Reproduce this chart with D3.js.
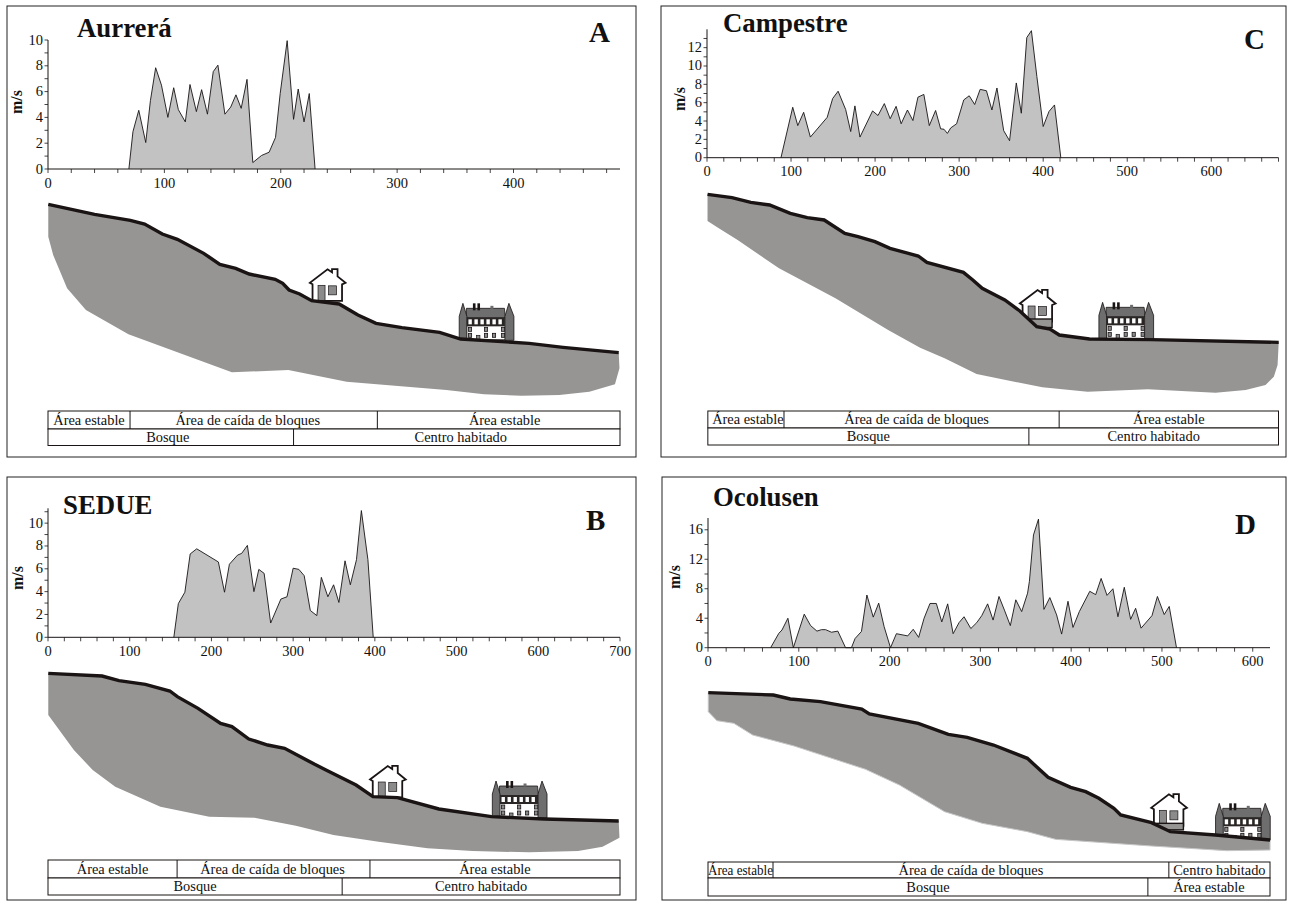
<!DOCTYPE html>
<html><head><meta charset="utf-8">
<style>html,body{margin:0;padding:0;background:#fff}svg{display:block}text{font-family:"Liberation Serif","Times New Roman",serif;fill:#111}</style>
<script src="https://cdn.jsdelivr.net/npm/d3@7"></script></head><body>
<svg id="c" width="1291" height="903"></svg>
<script>
// ---- wind speed along the profile (distance m, speed m/s)
const aurreraDist=[69.5,73,78,84,88,92.5,97.5,103,108,112,118,122,127.5,132,137,142,146,152,157,161.5,166,171,176,183.5,190,195.5,199.5,205.5,211,215,220,224.5,229.5];
const aurreraSpeed=[0,2.9,4.55,2.05,5.3,7.85,6.5,4,6.3,4.6,3.65,6.55,4.45,6.15,4.25,7.55,8.05,4.25,4.8,5.75,4.7,6.95,0.5,1.05,1.3,2.45,5.85,9.95,3.85,6.2,3.65,5.85,0];
const campestreDist=[88,102,108,115,123,143,149.5,156,165,171,176,182,197,203.5,211,218,225,231,238.5,245,251,258,264.5,272,278,282,286,290,297,305.5,312,318.5,325,332.5,339,345,353,360,368,374,380.5,386,392.5,400,407,413.5,421];
const campestreSpeed=[0,5.5,3.5,4.95,2.25,4.4,6.45,7.25,5.25,2.85,5.65,2.25,5.1,4.6,5.9,4.25,5.6,3.7,5.2,4.05,6.6,6.9,3.5,5.15,3.15,3.1,2.65,3.25,3.7,6.3,6.75,5.8,7.45,7.3,5.2,7.6,2.95,1.85,8.15,4.85,13.1,13.85,8.85,3.4,5.05,5.75,0];
const sedueDist=[154,159.5,167.5,174,182,208.5,216,222,232,237,244,252,258,264.5,272.5,285,292.5,300,307,313.5,321,329,334.5,342.5,349.5,356,363.5,370,377.5,383.5,391.5,398];
const sedueSpeed=[0,2.95,3.95,7.3,7.75,6.6,3.95,6.4,7.2,7.35,8.05,4,5.95,5.6,1.25,3.35,3.55,6.05,5.95,5.4,2.35,1.9,5.25,3.55,4.6,3.05,6.7,4.6,6.8,11.1,6.8,0];
const ocolusenDist=[69,78,81.5,88,94,106,113,120,125,129.5,136,143,151.5,158,162,169,175,182,188,194,201,207.5,220,226,232,238,244.5,251.5,257.5,264,270,276.5,282,289.5,296,301.5,308,314,320.5,326.5,333,339,345.5,352,354,358.5,364,370,376.5,384,389.5,396.5,402,409,420.5,427,433,439.5,446,451.5,458.5,465.5,471,477,489,495,502.5,508,516];
const ocolusenSpeed=[0,1.95,2.4,4,0,4.55,3,2.25,2.45,2.45,2.1,2.25,0,0,1.25,2.2,7.15,4.15,6.05,2.85,0,1.9,1.6,2.5,1.4,4,6,6,3.5,5.95,1.9,3.4,4.2,2.6,3.4,4.35,5.95,3.75,6.95,5.1,3,6.5,4.9,7.4,9,15.3,17.45,5.2,6.8,4.45,1.85,6.3,2.75,4.9,7.65,7.2,9.4,7.1,8,4.2,8.2,3.85,5.35,2.65,4.35,6.95,4.5,5.6,0];

// ---- terrain profiles, read in sheet units
const aurreraGround=[[22,28],[145,58],[240,76],[278,87],[325,117],[365,133],[435,175],[478,208],[520,220],[556,237],[625,253],[645,265],[662,285],[690,297],[722,317],[795,327],[845,360],[893,385],[962,398],[1062,412],[1118,432],[1300,445],[1390,457],[1538,473]];
const aurreraBase=[[1540,520],[1528,568],[1460,590],[1380,600],[1280,602],[1180,598],[1080,585],[815,560],[660,525],[510,532],[235,418],[122,345],[72,280],[35,180],[22,125]];
const campestreGround=[[20,28],[85,38],[135,52],[185,60],[240,85],[285,98],[330,105],[385,145],[420,155],[465,170],[505,190],[580,213],[603,232],[700,262],[725,285],[750,310],[810,345],[850,378],[895,425],[930,432],[955,450],[1035,462],[1200,464],[1538,472]];
const campestreBase=[[1535,540],[1525,575],[1503,600],[1450,615],[1370,623],[1190,613],[1030,620],[910,607],[735,567],[650,520],[585,488],[500,435],[360,340],[210,250],[100,165],[50,130],[20,108]];
const sedueGround=[[22,25],[165,33],[210,47],[280,58],[345,78],[365,95],[420,130],[480,175],[510,185],[555,222],[605,240],[650,250],[730,298],[760,315],[840,360],[885,395],[950,398],[1060,432],[1200,455],[1340,462],[1538,468]];
const sedueBase=[[1540,518],[1495,545],[1430,558],[1300,562],[1150,558],[1030,550],[900,530],[780,510],[680,482],[570,458],[450,455],[320,425],[200,365],[140,315],[90,255],[22,150]];
const ocolusenGround=[[22,38],[195,45],[240,57],[320,65],[430,87],[450,102],[580,130],[660,163],[710,172],[780,195],[870,235],[925,292],[985,322],[1025,335],[1060,355],[1100,385],[1118,405],[1200,428],[1250,455],[1370,465],[1515,480]];
const ocolusenBase=[[1515,510],[1400,512],[1200,498],[945,478],[870,455],[750,430],[650,395],[530,315],[440,268],[250,198],[140,165],[90,130],[45,122],[22,95]];

// ---- zone limits along the distance axis, and their names
const aurreraHazard=[0,70.5,283,491.5], aurreraHazardNames=["Área estable","Área de caída de bloques","Área estable"];
const aurreraUse=[0,211,491.5], aurreraUseNames=["Bosque","Centro habitado"];
const campestreHazard=[1,91.6,419,680], campestreHazardNames=["Área estable","Área de caída de bloques","Área estable"];
const campestreUse=[1,383,680], campestreUseNames=["Bosque","Centro habitado"];
const sedueHazard=[0,158,394,700], sedueHazardNames=["Área estable","Área de caída de bloques","Área estable"];
const sedueUse=[0,360,700], sedueUseNames=["Bosque","Centro habitado"];
const ocolusenHazard=[0,71.6,507.6,619], ocolusenHazardNames=["Área estable","Área de caída de bloques","Centro habitado"];
const ocolusenUse=[0,484.5,619], ocolusenUseNames=["Bosque","Área estable"];

const xTickLabelsA=[0,100,200,300,400], xTickLabelsC=[0,100,200,300,400,500,600], xTickLabelsB=[0,100,200,300,400,500,600,700], xTickLabelsD=[0,100,200,300,400,500,600];
const yTickLabelsA=[0,2,4,6,8,10], yTickLabelsC=[0,2,4,6,8,10,12], yTickLabelsB=[0,2,4,6,8,10], yTickLabelsD=[0,4,8,12,16];

// ---- layout
const panels=[
 {name:"Aurrerá",letter:"A",frame:[7,6,636,457],dist:aurreraDist,speed:aurreraSpeed,ground:aurreraGround,base:aurreraBase,
  xd:[0,491.5],xr:[48,620],xt:xTickLabelsA,xMinor:20,yd:[0,10],yr:[169,40],yt:yTickLabelsA,yMinor:1,yLast:10,
  sheet:[40,195,205],house:[715,220],foot:0,castle:[1112,325],
  title:[77,37],let:[589,42],ms:[22,102],haz:aurreraHazard,hazN:aurreraHazardNames,use:aurreraUse,useN:aurreraUseNames,tab:[411,429,445.5],
  hazDx:[0,-6,6],useDx:[-3,4]},
 {name:"Campestre",letter:"C",frame:[661,6,1286,457],dist:campestreDist,speed:campestreSpeed,ground:campestreGround,base:campestreBase,
  xd:[0,680],xr:[707,1278.5],xt:xTickLabelsC,xMinor:20,yd:[0,14],yr:[157.7,29.3],yt:yTickLabelsC,yMinor:1,yLast:13,
  sheet:[700,185,215],house:[848,312],foot:6,castle:[1058,352],
  title:[723,32],let:[1244,49],ms:[685,99],haz:campestreHazard,hazN:campestreHazardNames,use:campestreUse,useN:campestreUseNames,tab:[411,428,445],
  hazDx:[2,-5,0],useDx:[0,0]},
 {name:"SEDUE",letter:"B",frame:[7,477,636,900],dist:sedueDist,speed:sedueSpeed,ground:sedueGround,base:sedueBase,
  xd:[0,700],xr:[48,620],xt:xTickLabelsB,xMinor:20,yd:[0,11.3],yr:[637.3,508.3],yt:yTickLabelsB,yMinor:1,yLast:11,
  sheet:[40,665,195],house:[875,300],foot:0,castle:[1200,348],
  title:[63,514],let:[586,530],ms:[23,578],haz:sedueHazard,hazN:sedueHazardNames,use:sedueUse,useN:sedueUseNames,tab:[860,878,895],
  hazDx:[0,-1,0],useDx:[0,0]},
 {name:"Ocolusen",letter:"D",frame:[662,477,1286,900],dist:ocolusenDist,speed:ocolusenSpeed,ground:ocolusenGround,base:ocolusenBase,
  xd:[0,619],xr:[708,1270],xt:xTickLabelsD,xMinor:20,yd:[0,17.6],yr:[647.7,518],yt:yTickLabelsD,yMinor:2,yLast:16,
  sheet:[700,680,180],house:[1197,340],foot:4,castle:[1368,370],
  title:[713,506],let:[1235,534],ms:[680,577],haz:ocolusenHazard,hazN:ocolusenHazardNames,use:ocolusenUse,useN:ocolusenUseNames,tab:[862,878,896],squeezeFirst:65,
  hazDx:[0,0,0],useDx:[0,0]}
];

const svg=d3.select("#c");
const INK="#1a1414", ROCK="#969594", WIND="#c2c2c2", GREYB="#6e6e6e";

function drawHouse(g){
  g.append("path").attr("d","M3.5,16 L3.5,32.5 L33,32.5 L33,16 L36.5,14.5 L28.5,8 L28.5,0.8 L23,0.8 L23,4 L18.5,1 L0.8,14.5 Z")
    .attr("fill","#fff").attr("stroke",INK).attr("stroke-width",1.8).attr("stroke-linejoin","miter");
  g.append("rect").attr("x",9).attr("y",17).attr("width",7).attr("height",15).attr("fill","#8b8b8b").attr("stroke",INK).attr("stroke-width",0.7);
  g.append("rect").attr("x",19.5).attr("y",17.5).attr("width",8).attr("height",9).attr("fill","#8b8b8b").attr("stroke",INK).attr("stroke-width",0.7);
}
function drawFoot(g,h){
  if(h>0) g.append("rect").attr("x",3.5).attr("y",30).attr("width",29.5).attr("height",h+2.5).attr("fill",ROCK).attr("stroke",INK).attr("stroke-width",1.4);
}
function drawCastle(g){
  g.append("rect").attr("x",8).attr("y",14).attr("width",40).attr("height",22.5).attr("fill","#fff").attr("stroke",INK);
  g.append("path").attr("d","M8,5 L46,5 L47,14.5 L8,14.5 Z").attr("fill",GREYB).attr("stroke",INK).attr("stroke-width",0.8);
  g.append("rect").attr("x",14.5).attr("y",0).attr("width",2.6).attr("height",7).attr("fill",INK);
  g.append("rect").attr("x",19).attr("y",0).attr("width",2.6).attr("height",7).attr("fill",INK);
  g.append("rect").attr("x",32).attr("y",2.5).attr("width",3).attr("height",3).attr("fill",GREYB);
  [[0.8,8.5,4.5],[46.5,55.5,50.5]].forEach(([a,b,t])=>{
    g.append("path").attr("d",`M${a},37 L${a},13 L${t},0 L${b},13 L${b},37 Z`).attr("fill",GREYB).attr("stroke",INK).attr("stroke-width",0.8);
  });
  g.append("rect").attr("x",8.5).attr("y",14.5).attr("width",38).attr("height",8.5).attr("fill","#2a2626");
  for(let i=0;i<6;i++){
    g.append("rect").attr("x",10+i*6).attr("y",16).attr("width",3.4).attr("height",5).attr("fill","#fff");
  }
  [[10,24],[10,30],[26,24],[26,30],[34,30],[43,24],[43,30]].forEach(([x,y])=>{
    g.append("rect").attr("x",x).attr("y",y).attr("width",3.2).attr("height",4).attr("fill","#8b8b8b").attr("stroke",INK).attr("stroke-width",0.8);
  });
  g.append("rect").attr("x",18).attr("y",32).attr("width",3.5).attr("height",4.5).attr("fill","#8b8b8b").attr("stroke",INK).attr("stroke-width",0.7);
}

panels.forEach(p=>{
  const g=svg.append("g");
  const [fx0,fy0,fx1,fy1]=p.frame;
  g.append("rect").attr("x",fx0).attr("y",fy0).attr("width",fx1-fx0).attr("height",fy1-fy0).attr("fill","none").attr("stroke","#222").attr("stroke-width",1);

  const x=d3.scaleLinear().domain(p.xd).range(p.xr);
  const y=d3.scaleLinear().domain(p.yd).range(p.yr);

  // wind area
  const pts=p.dist.map((d,i)=>[d,p.speed[i]]);
  g.append("path").attr("d",d3.area().x(d=>x(d[0])).y0(y(0)).y1(d=>y(d[1]))(pts)).attr("fill",WIND);
  g.append("path").attr("d",d3.line().x(d=>x(d[0])).y(d=>y(d[1]))(pts)).attr("fill","none").attr("stroke",INK).attr("stroke-width",0.9).attr("stroke-linejoin","miter");

  // x axis
  const xAxis=g.append("g").attr("transform",`translate(0,${y(0)})`);
  xAxis.append("line").attr("x1",p.xr[0]).attr("x2",p.xr[1]).attr("stroke",INK).attr("stroke-width",1);
  xAxis.selectAll("line.t").data(d3.range(0,p.xd[1]+1,p.xMinor)).join("line").attr("class","t")
    .attr("x1",d=>x(d)).attr("x2",d=>x(d)).attr("y1",0).attr("y2",4).attr("stroke",INK).attr("stroke-width",0.8);
  xAxis.selectAll("text").data(p.xt).join("text").attr("x",d=>x(d)).attr("y",18.5).attr("text-anchor","middle").attr("font-size",14.5).text(d=>d);

  // y axis
  const yAxis=g.append("g").attr("transform",`translate(${p.xr[0]},0)`);
  yAxis.append("line").attr("y1",p.yr[0]).attr("y2",p.yr[1]).attr("stroke",INK).attr("stroke-width",1);
  yAxis.selectAll("line.t").data(d3.range(0,p.yLast+0.01,p.yMinor)).join("line").attr("class","t")
    .attr("x1",-3.5).attr("x2",0).attr("y1",d=>y(d)).attr("y2",d=>y(d)).attr("stroke",INK).attr("stroke-width",0.8);
  yAxis.selectAll("text").data(p.yt).join("text")
    .attr("x",-5).attr("y",d=>y(d)+4.5).attr("text-anchor","end").attr("font-size",14.5).text(d=>d);

  // titles
  g.append("text").attr("x",p.title[0]).attr("y",p.title[1]).attr("font-size",26.8).attr("font-weight","bold").text(p.name);
  g.append("text").attr("x",p.let[0]).attr("y",p.let[1]).attr("font-size",29).attr("font-weight","bold").text(p.letter);
  g.append("text").attr("transform",`translate(${p.ms[0]},${p.ms[1]}) rotate(-90)`).attr("text-anchor","middle").attr("font-size",16).attr("font-weight","bold").text("m/s");

  // terrain
  const sx=d3.scaleLinear().domain([0,1568]).range([p.sheet[0],p.sheet[0]+590]);
  const sy=d3.scaleLinear().domain([0,p.sheet[2]*3]).range([p.sheet[1],p.sheet[1]+p.sheet[2]]);
  const ln=d3.line().x(d=>sx(d[0])).y(d=>sy(d[1]));
  const rockEdge=p.letter==="D"?"#c6c6c6":"none";

  const hg=g.append("g").attr("transform",`translate(${sx(p.house[0])},${sy(p.house[1])})`); drawHouse(hg);
  const cg=g.append("g").attr("transform",`translate(${sx(p.castle[0])},${sy(p.castle[1])})`); drawCastle(cg);
  g.append("path").attr("d",ln(p.ground.concat(p.base))+"Z").attr("fill",ROCK).attr("stroke",rockEdge).attr("stroke-width",1);

  // foundation of the house: only the part standing above the ground line shows
  const clipId="above-"+p.letter;
  const first=p.ground[0], last=p.ground[p.ground.length-1];
  g.append("clipPath").attr("id",clipId).append("path").attr("d",ln(p.ground.concat([[last[0],0],[first[0],0]]))+"Z");
  drawFoot(g.append("g").attr("clip-path",`url(#${clipId})`).append("g").attr("transform",`translate(${sx(p.house[0])},${sy(p.house[1])})`),p.foot);

  g.append("path").attr("d",ln(p.ground)).attr("fill","none").attr("stroke",INK).attr("stroke-width",3.4).attr("stroke-linejoin","miter");

  // zone table
  const [t0,t1,t2]=p.tab;
  const zones=(lims,names,yTop,yBot,dx,first)=>{
    g.append("rect").attr("x",x(lims[0])).attr("y",yTop).attr("width",x(lims[lims.length-1])-x(lims[0])).attr("height",yBot-yTop).attr("fill","#fff").attr("stroke",INK).attr("stroke-width",1);
    lims.slice(1,-1).forEach(v=>g.append("line").attr("x1",x(v)).attr("x2",x(v)).attr("y1",yTop).attr("y2",yBot).attr("stroke",INK).attr("stroke-width",1));
    names.forEach((n,i)=>{
      const t=g.append("text").attr("x",(x(lims[i])+x(lims[i+1]))/2+dx[i]).attr("y",(yTop+yBot)/2+4.5).attr("text-anchor","middle").attr("font-size",14.4).text(n);
      if(i===0&&first) t.attr("textLength",first).attr("lengthAdjust","spacingAndGlyphs");
    });
  };
  zones(p.haz,p.hazN,t0,t1,p.hazDx,p.squeezeFirst);
  zones(p.use,p.useN,t1,t2,p.useDx);
});
</script></body></html>
